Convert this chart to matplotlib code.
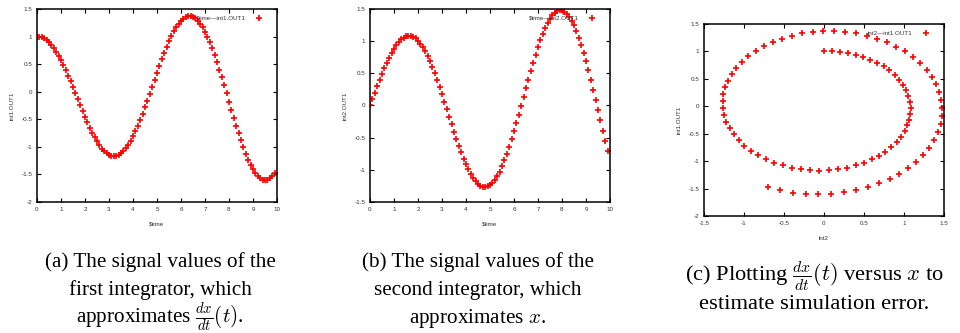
import matplotlib
matplotlib.use("Agg")
import matplotlib.pyplot as plt

plt.rcParams["mathtext.fontset"] = "cm"

# sample times of the simulation output
time = [0.0, 0.1, 0.2, 0.3, 0.4, 0.5, 0.6, 0.7, 0.8, 0.9,
        1.0, 1.1, 1.2, 1.3, 1.4, 1.5, 1.6, 1.7, 1.8, 1.9,
        2.0, 2.1, 2.2, 2.3, 2.4, 2.5, 2.6, 2.7, 2.8, 2.9,
        3.0, 3.1, 3.2, 3.3, 3.4, 3.5, 3.6, 3.7, 3.8, 3.9,
        4.0, 4.1, 4.2, 4.3, 4.4, 4.5, 4.6, 4.7, 4.8, 4.9,
        5.0, 5.1, 5.2, 5.3, 5.4, 5.5, 5.6, 5.7, 5.8, 5.9,
        6.0, 6.1, 6.2, 6.3, 6.4, 6.5, 6.6, 6.7, 6.8, 6.9,
        7.0, 7.1, 7.2, 7.3, 7.4, 7.5, 7.6, 7.7, 7.8, 7.9,
        8.0, 8.1, 8.2, 8.3, 8.4, 8.5, 8.6, 8.7, 8.8, 8.9,
        9.0, 9.1, 9.2, 9.3, 9.4, 9.5, 9.6, 9.7, 9.8, 9.9]

# first integrator output (dx/dt)
int1 = [1.000, 1.000, 0.990, 0.970, 0.940, 0.901, 0.851, 0.793, 0.727, 0.653,
        0.571, 0.483, 0.389, 0.290, 0.187, 0.082, -0.026, -0.134, -0.242, -0.349,
        -0.453, -0.554, -0.650, -0.741, -0.825, -0.902, -0.970, -1.030, -1.079, -1.119,
        -1.148, -1.165, -1.171, -1.166, -1.148, -1.119, -1.079, -1.027, -0.965, -0.892,
        -0.810, -0.718, -0.619, -0.513, -0.400, -0.282, -0.160, -0.035, 0.091, 0.218,
        0.343, 0.467, 0.587, 0.703, 0.812, 0.915, 1.009, 1.094, 1.170, 1.234,
        1.286, 1.327, 1.354, 1.368, 1.369, 1.356, 1.329, 1.288, 1.235, 1.168,
        1.089, 0.999, 0.897, 0.786, 0.665, 0.537, 0.402, 0.262, 0.118, -0.029,
        -0.178, -0.325, -0.471, -0.614, -0.752, -0.884, -1.009, -1.124, -1.230, -1.324,
        -1.406, -1.475, -1.529, -1.569, -1.594, -1.603, -1.596, -1.573, -1.534, -1.479]

# second integrator output (x)
int2 = [0.000, 0.100, 0.200, 0.299, 0.396, 0.490, 0.580, 0.665, 0.745, 0.817,
        0.883, 0.940, 0.988, 1.027, 1.056, 1.074, 1.083, 1.080, 1.067, 1.042,
        1.007, 0.962, 0.907, 0.842, 0.768, 0.685, 0.595, 0.498, 0.395, 0.287,
        0.175, 0.060, -0.056, -0.173, -0.290, -0.405, -0.516, -0.624, -0.727, -0.824,
        -0.913, -0.994, -1.066, -1.128, -1.179, -1.219, -1.247, -1.263, -1.266, -1.257,
        -1.236, -1.201, -1.155, -1.096, -1.026, -0.944, -0.853, -0.752, -0.643, -0.526,
        -0.402, -0.274, -0.141, -0.006, 0.131, 0.268, 0.404, 0.537, 0.665, 0.789,
        0.906, 1.015, 1.114, 1.204, 1.283, 1.349, 1.403, 1.443, 1.469, 1.481,
        1.478, 1.460, 1.428, 1.381, 1.319, 1.244, 1.156, 1.055, 0.942, 0.820,
        0.687, 0.547, 0.399, 0.246, 0.089, -0.070, -0.230, -0.390, -0.547, -0.701]

captions = [
    ["(a) The signal values of the", "first integrator, which",
     r"approximates $\frac{dx}{dt}(t)$."],
    ["(b) The signal values of the", "second integrator, which",
     r"approximates $x$."],
    [r"(c) Plotting $\frac{dx}{dt}(t)$ versus $x$ to",
     "estimate simulation error."],
]

sans = "Liberation Sans"
serif = "Liberation Serif"
tick_fs = 4.5
mk = dict(marker="+", linestyle="none", color="red", markersize=5,
          markeredgewidth=1.2)

fig = plt.figure(figsize=(9.6, 3.33), dpi=100)

ax1 = fig.add_axes([0.0385, 0.3934, 0.25, 0.5796])
ax2 = fig.add_axes([0.3854, 0.3934, 0.25, 0.5796])
ax3 = fig.add_axes([0.7333, 0.3514, 0.25, 0.5766])


def style(ax, xlim, ylim, xticks, yticks, xlabel, ylabel, key):
    ax.set_xlim(*xlim)
    ax.set_ylim(*ylim)
    ax.set_xticks(xticks)
    ax.set_yticks(yticks)
    ax.set_xticklabels([("%g" % v) for v in xticks])
    ax.set_yticklabels([("%g" % v) for v in yticks])
    ax.tick_params(direction="in", length=3, width=0.8, top=True, right=True,
                   labelsize=tick_fs, labelcolor="#333333", pad=3.5)
    for lab in ax.get_xticklabels() + ax.get_yticklabels():
        lab.set_family(sans)
    for sp in ax.spines.values():
        sp.set_linewidth(1.1)
    ax.set_xlabel(xlabel, fontsize=tick_fs, family=sans, color="#333333",
                  labelpad=7)
    ax.set_ylabel(ylabel, fontsize=tick_fs, family=sans, color="#333333",
                  labelpad=5)
    # gnuplot-style key in the upper right corner
    ax.text(0.868, 0.953, key, transform=ax.transAxes, ha="right", va="center",
            fontsize=tick_fs, family=sans, color="#333333")
    ax.plot([0.925], [0.953], transform=ax.transAxes, clip_on=False, **mk)


ax1.plot(time, int1, **mk)
style(ax1, (0, 10), (-2, 1.5), range(0, 11), [-2, -1.5, -1, -0.5, 0, 0.5, 1, 1.5],
      r"\$time", "int1.OUT1", r"\$time—int1.OUT1")

ax2.plot(time, int2, **mk)
style(ax2, (0, 10), (-1.5, 1.5), range(0, 11), [-1.5, -1, -0.5, 0, 0.5, 1, 1.5],
      r"\$time", "int2.OUT1", r"\$time—int2.OUT1")

ax3.plot(int2, int1, **mk)
style(ax3, (-1.5, 1.5), (-2, 1.5), [-1.5, -1, -0.5, 0, 0.5, 1, 1.5],
      [-2, -1.5, -1, -0.5, 0, 0.5, 1, 1.5],
      "int2", "int1.OUT1", "int2—int1.OUT1")

# sub-figure captions, placed by baseline
centers = [160 / 960, 478 / 960, 814 / 960]
baselines = [[267, 295, 323], [267, 295, 323], [281, 309]]
sizes = [15.2, 15.2, 16.2]
for cx, lines, ys, fs in zip(centers, captions, baselines, sizes):
    for txt, y in zip(lines, ys):
        fig.text(cx, 1 - y / 333, txt, ha="center", va="baseline",
                 fontsize=fs, family=serif)

fig.savefig("out.png", dpi=100)
